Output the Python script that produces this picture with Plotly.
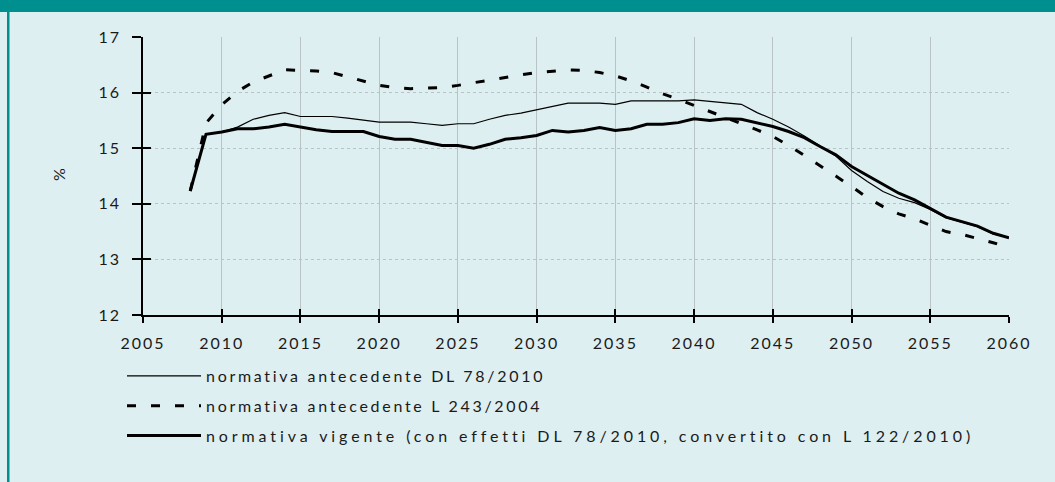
import plotly.graph_objects as go

years = list(range(2008, 2061))

dl78 = [14.23, 15.25, 15.29, 15.38, 15.52, 15.59, 15.64, 15.57, 15.57, 15.57,
        15.54, 15.51, 15.47, 15.47, 15.47, 15.44, 15.41, 15.44, 15.44, 15.52,
        15.59, 15.63, 15.69, 15.76, 15.81, 15.81, 15.81, 15.79, 15.85, 15.85,
        15.85, 15.85, 15.87, 15.84, 15.82, 15.79, 15.64, 15.52, 15.38, 15.22,
        15.04, 14.86, 14.60, 14.40, 14.22, 14.10, 14.02, 13.90, 13.75, 13.67,
        13.59, 13.46, 13.39]

l243 = [14.23, 15.45, 15.78, 16.02, 16.19, 16.30, 16.41, 16.40, 16.39, 16.36,
        16.28, 16.20, 16.13, 16.09, 16.07, 16.08, 16.09, 16.13, 16.18, 16.23,
        16.28, 16.32, 16.36, 16.38, 16.41, 16.40, 16.36, 16.30, 16.21, 16.10,
        15.98, 15.88, 15.77, 15.67, 15.56, 15.44, 15.33, 15.21, 15.05, 14.87,
        14.69, 14.50, 14.31, 14.11, 13.95, 13.82, 13.73, 13.61, 13.50, 13.45,
        13.38, 13.30, 13.21]

vigente = [14.23, 15.25, 15.29, 15.35, 15.35, 15.38, 15.43, 15.38, 15.33, 15.30,
           15.30, 15.30, 15.21, 15.16, 15.16, 15.10, 15.05, 15.05, 15.00, 15.07,
           15.16, 15.19, 15.23, 15.32, 15.29, 15.32, 15.37, 15.32, 15.35, 15.43,
           15.43, 15.46, 15.53, 15.50, 15.53, 15.52, 15.45, 15.39, 15.30, 15.19,
           15.03, 14.88, 14.67, 14.51, 14.35, 14.19, 14.07, 13.92, 13.76, 13.68,
           13.60, 13.47, 13.39]

names = ["normativa antecedente DL 78/2010",
         "normativa antecedente L 243/2004",
         "normativa vigente (con effetti DL 78/2010, convertito con L 122/2010)"]

BG = "#deeff1"
TEAL = "#008f8f"
FONT = "Lato"
TXT = "#1a1a1a"
FS = 16

fig = go.Figure()
fig.add_trace(go.Scatter(x=years, y=dl78, mode="lines", name=names[0], legendgroup="a",
                         line=dict(color="black", width=1.2)))
fig.add_trace(go.Scatter(x=years, y=l243, mode="lines", name=names[1], legendgroup="b",
                         line=dict(color="black", width=3, dash="9px,15px")))
fig.add_trace(go.Scatter(x=years, y=vigente, mode="lines", name=names[2], legendgroup="c",
                         line=dict(color="black", width=3)))
# empty trace to carry the overlay axes (inner half of crossing ticks)
fig.add_trace(go.Scatter(x=[], y=[], xaxis="x2", yaxis="y2", showlegend=False, hoverinfo="skip"))

axis_common = dict(showline=True, linecolor="black", linewidth=1.5, tickcolor="black",
                   tickwidth=1.5, zeroline=False,
                   tickfont=dict(family=FONT, size=FS, color=TXT))

fig.update_layout(
    width=1055, height=482,
    paper_bgcolor=BG, plot_bgcolor=BG,
    margin=dict(l=143, r=46, t=37, b=167, autoexpand=False),
    font=dict(family=FONT, size=FS, color=TXT),
    xaxis=dict(range=[2005, 2060], tick0=2005, dtick=5, ticks="outside", ticklen=6,
               tickangle=0, ticklabelstandoff=7,
               showgrid=True, gridcolor="#b9c3c5", gridwidth=1, **axis_common),
    yaxis=dict(range=[12, 17], tick0=12, dtick=1, ticks="outside", ticklen=9,
               ticklabelstandoff=8,
               showgrid=True, gridcolor="#b9c3c5", gridwidth=1, griddash="dot",
               **axis_common),
    xaxis2=dict(range=[2005, 2060], tick0=2005, dtick=5, ticks="inside", ticklen=6,
                overlaying="x", showticklabels=False, showgrid=False, showline=False,
                tickcolor="black", tickwidth=1.5, zeroline=False),
    yaxis2=dict(range=[12, 17], tick0=12, dtick=1, ticks="inside", ticklen=8,
                overlaying="y", showticklabels=False, showgrid=False, showline=False,
                tickcolor="black", tickwidth=1.5, zeroline=False),
    legend=dict(xref="container", yref="container", x=122 / 1055, y=(482 - 359) / 482,
                xanchor="left", yanchor="top", bgcolor="rgba(0,0,0,0)",
                itemwidth=74, tracegroupgap=6,
                font=dict(family=FONT, size=FS, color=TXT)),
    showlegend=True,
    annotations=[
        dict(text="%", xref="paper", yref="paper", x=(58 - 143) / 866, y=(315 - 175) / 278,
             showarrow=False, textangle=-90, xanchor="center", yanchor="middle",
             font=dict(family=FONT, size=FS, color=TXT)),
    ],
    shapes=[
        dict(type="rect", xref="paper", yref="paper",
             x0=-200, x1=200, y0=(315 - 12) / 278, y1=(315 + 5) / 278,
             fillcolor=TEAL, line=dict(width=0), layer="above"),
        dict(type="rect", xref="paper", yref="paper",
             x0=(7 - 143) / 866, x1=(9.5 - 143) / 866,
             y0=-2, y1=(315 - 12) / 278,
             fillcolor=TEAL, line=dict(width=0), layer="above"),
    ],
)

post = """
document.body.style.margin = '0';
document.querySelectorAll('.legend .scrollbox').forEach(function(e){ e.removeAttribute('clip-path'); });
var sp = ['2.7px', '2.7px', '3.9px'];
document.querySelectorAll('.legendtext').forEach(function(t, i){ t.style.letterSpacing = sp[Math.min(i, 2)]; });
document.querySelectorAll('.xtick text, .ytick text').forEach(function(t){ t.style.letterSpacing = '2px'; });
"""

fig.write_html("out.html", post_script=post, config={"displayModeBar": False})
